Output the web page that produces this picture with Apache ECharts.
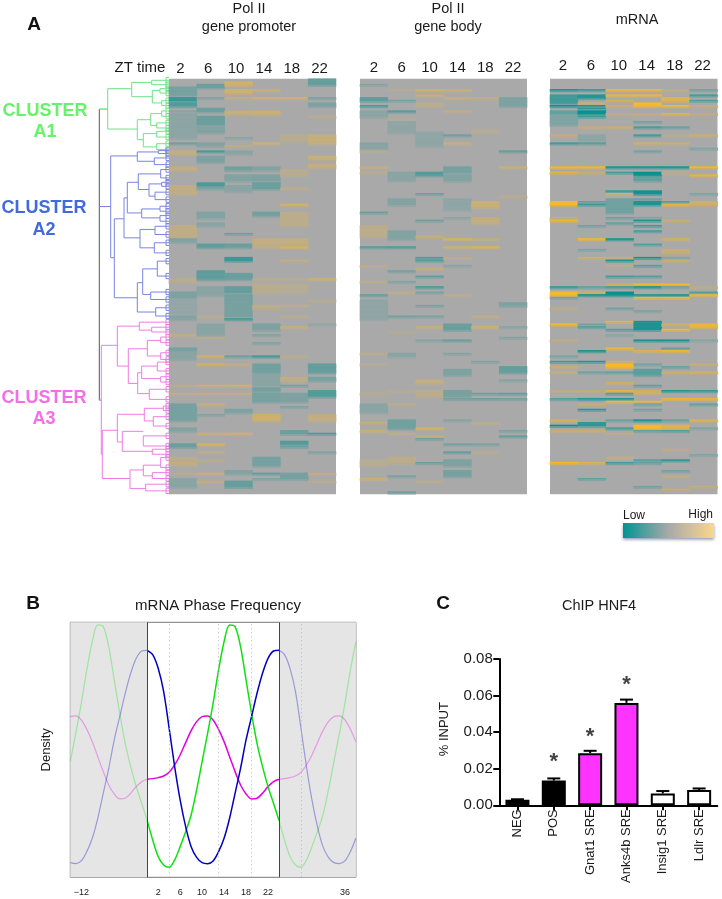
<!DOCTYPE html>
<html><head><meta charset="utf-8">
<style>html,body{margin:0;padding:0;background:#fff}#c{width:722px;height:899px}</style>
<script src="https://cdn.jsdelivr.net/npm/echarts@6/dist/echarts.min.js"></script>
</head><body><div id="c"></div>
<script>
// ---------- Panel A: heat map values, sparse bands [row,value] or [rowFrom,rowTo,value]; all other cells are 0
const ztTimes = ['2','6','10','14','18','22'];
const rowCount = 156;
const promoter2 = [[3,6,-.4],[7,8,-.9],[9,10,-.7],[12,-.3],[13,22,-.22],[24,-.5],[27,28,.4],[33,34,.4],[40,43,.35],[55,59,.35],[60,61,-.3],[75,76,.25],[80,82,-.35],[83,88,-.15],[89,90,-.3],[96,.4],[101,102,-.4],[103,105,-.25],[115,.3],[118,.4],[122,128,-.4],[131,132,-.3],[137,138,-.5],[142,143,.3],[144,.5],[145,.3],[148,.3],[150,153,-.25]];
const promoter6 = [[2,3,-.5],[7,-.35],[11,12,-.5],[14,17,-.5],[18,20,-.3],[24,25,-.3],[27,-.85],[29,31,-.35],[39,40,-.75],[41,-.35],[50,52,-.3],[54,55,-.25],[62,63,-.6],[72,75,-.6],[78,81,-.25],[89,.25],[92,96,-.25],[97,.3],[104,.65],[107,.75],[115,.6],[118,.5],[122,.5],[126,-.3],[133,.5],[137,.8],[140,.35],[143,.3],[148,.55],[151,.5]];
const promoter10 = [[1,2,.65],[4,5,.6],[7,.4],[12,13,.45],[22,-.25],[25,.3],[27,28,-.25],[33,34,-.45],[36,38,-.3],[40,42,-.25],[58,-.5],[62,63,-.5],[67,68,-.9],[73,75,-.5],[78,80,-.55],[81,89,-.4],[90,-.85],[104,-.5],[107,.4],[115,.75],[118,.45],[124,125,-.35],[133,.7],[147,148,-.3],[151,153,-.55]];
const promoter14 = [[4,.55],[7,.7],[12,13,.55],[24,.6],[33,34,-.3],[36,38,-.35],[39,41,-.5],[50,51,-.45],[60,62,.4],[63,.4],[75,.3],[77,80,.25],[85,86,.3],[92,94,-.35],[96,-.35],[99,-.35],[104,-.9],[107,110,-.45],[111,115,-.25],[116,117,-.45],[118,121,-.4],[126,128,.6],[142,145,-.4],[148,-.6],[150,-.35]];
const promoter18 = [[7,.7],[21,23,.25],[34,36,.25],[41,.3],[47,.75],[50,55,.3],[60,62,.4],[63,.8],[68,.4],[75,.3],[77,80,.2],[85,.4],[89,.3],[93,.5],[104,.3],[112,113,.35],[115,-.4],[118,121,-.35],[123,-.35],[132,133,-.5],[136,137,-.7],[138,-.5],[148,150,-.4]];
const promoter22 = [[0,2,-.55],[7,-.4],[9,10,-.35],[14,.3],[21,24,.45],[29,30,.45],[32,33,.4],[75,.6],[83,.25],[92,-.2],[107,110,-.55],[112,113,-.4],[117,119,-.7],[126,128,.4],[133,-.75],[140,-.35],[148,.4],[151,.25]];
const body2 = [[2,-.3],[7,8,-.6],[10,-.8],[12,14,-.25],[24,26,-.25],[27,.25],[33,.5],[35,.3],[50,-.5],[55,59,.3],[63,-.7],[70,.35],[76,.3],[81,-.55],[83,90,-.2],[103,.3],[107,.2],[118,.25],[122,125,-.25],[129,.45],[132,.55],[143,145,.2],[150,.55]];
const body6 = [[4,.2],[8,-.4],[12,-.75],[15,.25],[16,20,-.2],[35,38,-.25],[45,47,-.3],[57,60,-.3],[63,-.75],[72,-.45],[76,-.3],[80,.35],[89,-.45],[95,.2],[103,104,-.25],[117,.25],[122,.3],[128,131,-.45],[133,.35],[142,144,.3],[149,-.4],[155,-.5]];
const body10 = [[4,.75],[6,.55],[9,10,.3],[20,25,-.2],[35,36,-.7],[43,-.5],[53,-.45],[59,.5],[67,-.75],[68,-.7],[71,.5],[74,-.6],[78,-.8],[80,-.4],[85,-.4],[89,-.4],[93,.5],[98,-.3],[113,114,.4],[117,119,.3],[131,.75],[134,.45],[135,-.45],[144,-.5],[151,.3]];
const body14 = [[4,.55],[7,.5],[12,.4],[21,-.5],[24,.5],[33,35,-.4],[36,38,-.3],[45,49,-.2],[52,-.25],[60,.85],[63,.65],[67,.35],[70,-.25],[81,.3],[92,94,-.5],[98,-.55],[103,-.3],[109,111,-.35],[117,119,-.4],[120,-.45],[128,-.3],[137,-.45],[140,-.6],[143,145,-.35],[147,149,-.4]];
const body18 = [[7,.4],[19,20,.2],[46,48,.5],[52,54,.4],[60,.5],[63,.9],[89,.4],[93,.65],[106,-.3],[118,-.5],[120,-.5],[129,.3],[137,-.4],[140,.3]];
const body22 = [[7,10,-.35],[27,-.6],[33,.55],[44,.3],[84,85,-.35],[93,-.3],[97,-.3],[108,110,-.55],[113,-.3],[118,-.6],[120,-.45],[132,-.35],[134,-.6]];
const mrna2 = [[4,-.95],[6,9,-.7],[10,-1],[12,13,-.5],[14,17,-.3],[21,.35],[24,-.75],[33,1],[35,.7],[46,47,1],[52,.4],[53,.9],[78,-.8],[80,81,1],[82,-.4],[86,.25],[92,1],[98,.3],[104,-.35],[106,-.7],[108,.4],[110,.35],[117,.3],[120,-.6],[128,.6],[130,-1],[132,.4],[144,1]];
const mrna6 = [[4,-.8],[6,7,-.85],[9,.5],[10,-.95],[11,-.8],[12,13,-1],[14,-.7],[18,.4],[21,23,-.2],[24,-.6],[33,1],[35,.4],[46,-.5],[47,-.75],[55,-.4],[60,1],[64,-.35],[67,.6],[78,-.5],[80,.5],[81,-1],[92,-.4],[93,-.6],[102,-1],[106,-.85],[110,-.45],[117,.3],[120,-.9],[122,.4],[124,-.8],[129,130,-.8],[132,.4],[144,.6],[150,-.5]];
const mrna10 = [[4,1],[6,.95],[8,.5],[10,.5],[13,.3],[18,.5],[33,-1],[35,-.7],[42,-.8],[43,.5],[45,50,-.4],[52,-.45],[54,-.5],[60,-1],[67,.5],[68,-.9],[70,.3],[74,-.7],[77,.5],[78,-.7],[80,81,-1],[86,-.4],[91,.8],[94,-.6],[96,-.25],[101,.9],[106,.6],[107,108,1],[110,-.5],[114,.5],[117,.85],[118,-.6],[120,-.9],[121,.9],[128,-.5],[131,-.7],[133,.3],[142,.4],[144,-.7]];
const mrna14 = [[4,.95],[6,.95],[9,10,1],[13,.4],[16,-.4],[18,-.7],[21,-.75],[24,.5],[27,-.4],[33,-1],[35,36,-1],[37,38,-.5],[42,43,-.95],[45,-.5],[46,47,-.9],[52,-.3],[53,-.9],[55,-.7],[57,-.7],[62,-.6],[67,-.95],[70,-.6],[74,-.6],[77,1],[78,-.95],[81,-.95],[82,1],[87,-.35],[91,94,-.9],[98,-1],[102,.7],[107,-.4],[109,111,-.55],[115,-.5],[117,118,.5],[121,.9],[122,-.4],[124,-.4],[128,-1],[130,131,1],[132,-.5],[143,-.6],[144,-.5],[153,-.4]];
const mrna18 = [[4,.35],[7,8,.7],[10,1],[13,.8],[18,-.5],[21,.25],[24,.4],[33,-1],[35,.25],[46,-.6],[47,.8],[53,.4],[60,.6],[64,65,.4],[67,-.3],[68,.4],[77,1],[78,-.4],[81,-.95],[82,1],[92,.5],[94,1],[98,-1],[101,-.5],[102,1],[108,-.5],[110,.5],[117,-.9],[120,.9],[128,-.5],[130,131,.7],[132,-.6],[139,.3],[143,-.85],[147,-.4],[149,.3],[154,.4]];
const mrna22 = [[4,-.4],[6,-.7],[8,-.6],[10,.4],[13,.3],[21,.5],[26,-.3],[33,1],[36,.85],[43,-.3],[46,47,.5],[78,.3],[80,-.6],[81,.9],[92,93,.85],[98,-.25],[107,.4],[110,.6],[117,-.8],[120,.9],[122,-.5],[128,.7],[131,-.3],[141,-.3],[153,.3]];

// ---------- Panel A: dendrogram merges [height, rowA, rowB, childHeightA, childHeightB]; child height 3 = group of leaves
const mergesRoot = [[69.7,11.4,120.7,69.7,69.7]];
const mergesA1 = [[69.7,11.4,11.4,61.3,61.3],[61.3,3.75,18.9,37.3,31.7],[37.3,1.4,6.75,17.3,16.7],[17.3,.6,2.25,3,3],[16.7,4.4,9.1,9,7.3],[9,3.75,5.4,3,3],[7.3,8.25,10.1,3,3],[31.7,15.4,22.9,18.3,25.7],[18.3,13.1,17.6,7.3,12.3],[7.3,12.1,14.1,3,3],[12.3,16.6,18.5,3,3],[25.7,20.6,25.6,12.3,12.3],[12.3,19.75,21.9,3,3],[12.3,24.4,26.6,3,3]];
const mergesA2 = [[69.7,48,48,58.3,58.3],[58.3,29,67.2,31.7,54.7],[31.7,27.5,31,10.7,14.7],[10.7,27,28.1,3,3],[14.7,29.75,32.25,3,3],[54.7,52.6,82.25,45,31.7],[45,44.75,59.75,41.7,29],[41.7,38.9,50.4,30.7,27.3],[30.7,35.75,41.6,8.3,20],[8.3,34.1,37.25,3,3],[20,39.5,44.1,7.3,14],[7.3,38.9,40.4,3,3],[14,42.6,45.4,3,3],[27.3,48.9,52.25,9,9],[9,47.9,49.75,3,3],[9,51.4,53.5,3,3],[29,56.6,63.5,14,14.7],[14,55.4,58.5,3,3],[14.7,61.6,65.4,3,3],[31.7,76.6,87.6,26.3,13.3],[26.3,71.4,81,11.7,18.3],[11.7,68.5,74.1,3,3],[18.3,80.1,82.9,3,3],[13.3,86,89.1,3,3]];
const mergesA3 = [[69.7,120.7,120.7,67.7,67.7],[67.7,100.1,141,51.7,66.7],[51.7,92.9,107.9,29.7,40.7],[29.7,91.4,94.4,3,17.3],[17.3,93.3,95.1,3,3],[40.7,101.4,114.4,21.7,31.3],[21.7,98.25,104.1,8.3,8.3],[8.3,97,99.1,3,3],[8.3,102.9,105.4,3,3],[31.3,110.4,118.25,27.3,19.7],[27.3,107.9,112.6,11.7,8.3],[11.7,106.4,109.75,3,3],[8.3,111.9,113.9,3,3],[19.7,116.6,120.4,3,3],[66.7,132,150.1,51.7,39],[51.7,126,136.4,24.7,46.7],[24.7,123.75,128.5,5.7,15.7],[5.7,122.9,124.6,3,3],[15.7,126.9,130.4,3,3],[46.7,132.4,139.9,25.7,16.7],[25.7,134.1,137.9,3,3],[16.7,139.1,141,3,3],[39,146.9,153.9,25.7,23.3],[25.7,145.1,149.1,8.3,16.7],[8.3,142.25,146,3,3],[16.7,147.9,150.1,3,3],[23.3,152.25,154.75,3,3]];

// ---------- Panel B: density over one 24 h period, hourly
const phaseTicks = [-12,2,6,10,14,18,22,36];
const phaseDotted = [4,13,19,28];
const densityBlue = [681,668,627,557,447,332,232,152,92,60,44,41,49,77,117,177,252,327,412,482,552,612,657,679,681];
const densityGreen = [170,112,62,37,30,52,92,137,187,262,347,432,522,622,707,757,752,692,592,492,402,332,272,222,170];
const densityMagenta = [294,296,299,304,315,337,367,404,440,467,482,484,472,444,407,362,317,277,250,235,237,252,272,287,294];

// ---------- Panel C: ChIP HNF4
const chipNames = ['NEG','POS','Gnat1 SRE','Anks4b SRE','Insig1 SRE','Ldlr SRE'];
const chipValues = [0.003,0.0135,0.0285,0.056,0.0065,0.0083];
const chipErrorTop = [0.0033,0.0147,0.0298,0.0578,0.0078,0.0092];
const chipStarAt = [null,0.0248,0.0384,0.0667,null,null];
const chipFills = ['#000','#000','#ff33ff','#ff33ff','#fff','#fff'];

const FONT = '"Liberation Sans", Arial, sans-serif';
const TXT = '#1a1a1a';

// each row is drawn as two half rows, the lower edge of a band softened like the original's resampling
function cells(cols){
  const out = [];
  cols.forEach((bands,c)=>{
    const v = new Array(rowCount*2).fill(0);
    bands.forEach(b=>{
      const from=b[0], to=b.length===3?b[1]:b[0], val=b[b.length-1];
      for(let r=from*2;r<=to*2+1;r++) v[r]=(r===to*2+1)?val*.55:val;
    });
    v.forEach((x,r)=>{ if(x!==0) out.push([c,r,x]); });
  });
  return out;
}
const rowLabels = Array.from({length:rowCount*2},(_,i)=>String(i));

function heatGrid(left,width){return {left,width,top:78.7,height:415.5,show:true,borderWidth:0,backgroundColor:'#a9a9a9'};}
function heatX(idx,margin,padRight){return {type:'category',gridIndex:idx,position:'top',data:ztTimes,
  axisLine:{show:false},axisTick:{show:false},splitLine:{show:false},
  axisLabel:{fontSize:15,color:TXT,margin,interval:0,fontFamily:FONT,padding:[0,padRight,0,0]}};}
function heatY(idx){return {type:'category',gridIndex:idx,inverse:true,data:rowLabels,show:false};}
function heatS(idx,cols){return {type:'heatmap',xAxisIndex:idx,yAxisIndex:idx,data:cells(cols),
  itemStyle:{borderWidth:0},emphasis:{disabled:true},progressive:0,animation:false};}

function renderMerge(params,api){
  const h=api.value(0),a=api.value(1),b=api.value(2),ha=api.value(3),hb=api.value(4);
  const P=(x,y)=>api.coord([x,y]);
  const stroke=api.visual('color');
  const st={stroke,lineWidth:1,fill:null};
  const kids=[{type:'polyline',shape:{points:[P(ha,a),P(h,a),P(h,b),P(hb,b)]},style:st}];
  [[ha,a],[hb,b]].forEach(([ch,r])=>{
    if(ch===3){
      kids.push({type:'polyline',shape:{points:[P(0,r-1),P(3,r-1),P(3,r+1),P(0,r+1)]},style:st});
      kids.push({type:'polyline',shape:{points:[P(3,r),P(0,r)]},style:st});
    }
  });
  return {type:'group',children:kids};
}
function mergeS(data,color){return {type:'custom',xAxisIndex:0,yAxisIndex:0,data,renderItem:renderMerge,
  itemStyle:{color},encode:{x:[0,3,4],y:[1,2]},silent:true,animation:false};}

// Panel B helpers: repeat the read period into the shaded zones
const hoursLeft=[],hoursMid=[],hoursRight=[];
for(let h=-14;h<=0;h++)hoursLeft.push(h);
for(let h=0;h<=24;h++)hoursMid.push(h);
for(let h=24;h<=38;h++)hoursRight.push(h);
function curve(vals,color){
  const at=h=>vals[((h%24)+24)%24];
  const base={type:'line',xAxisIndex:1,yAxisIndex:1,smooth:.3,showSymbol:false,symbol:'none',silent:true,animation:false};
  return [
    {...base,data:hoursLeft.map(h=>[h,at(h)]),lineStyle:{color,width:1.2,opacity:.33}},
    {...base,data:hoursRight.map(h=>[h,at(h)]),lineStyle:{color,width:1.2,opacity:.33}},
    {...base,data:hoursMid.map(h=>[h,vals[h]]),lineStyle:{color,width:1.5},z:4}
  ];
}
const phaseDecor={type:'line',xAxisIndex:1,yAxisIndex:1,data:[],silent:true,animation:false,
  markArea:{silent:true,itemStyle:{color:'#e5e5e5'},data:[[{xAxis:-14},{xAxis:0}],[{xAxis:24},{xAxis:38}]],z:1},
  markLine:{silent:true,symbol:'none',label:{show:false},animation:false,data:[
    ...phaseDotted.map(h=>({xAxis:h,lineStyle:{color:'#b8b8b8',type:[1,3],width:1}})),
    {xAxis:0,lineStyle:{color:'#444',type:'solid',width:1}},
    {xAxis:24,lineStyle:{color:'#444',type:'solid',width:1}}
  ]}};

function renderErr(params,api){
  const i=api.value(0),lo=api.coord([i,api.value(1)]),hi=api.coord([i,api.value(2)]);
  const st={stroke:'#000',lineWidth:2,fill:null};
  return {type:'group',children:[
    {type:'line',shape:{x1:lo[0],y1:lo[1],x2:hi[0],y2:hi[1]},style:st},
    {type:'line',shape:{x1:hi[0]-6.5,y1:hi[1],x2:hi[0]+6.5,y2:hi[1]},style:st}]};
}

function T(x,y,text,size,opt){return {type:'text',x,y,silent:true,style:Object.assign({text,fontSize:size,fontFamily:FONT,fill:TXT,align:'center',verticalAlign:'middle'},opt||{})};}
const clusterStyle=c=>({fontWeight:'bold',fill:c});

const option={
  animation:false,backgroundColor:'#fff',textStyle:{fontFamily:FONT},
  visualMap:[
    {show:false,seriesIndex:[5,6],min:-1.35,max:1.35,dimension:2,inRange:{color:['#008f8c','#a9a9a9','#fcba22']}},
    {show:false,seriesIndex:[7],min:-1.05,max:1.05,dimension:2,inRange:{color:['#008f8c','#5ea09f','#a9a9a9','#d2b061','#fcba22']}}
  ],
  grid:[
    {left:99,width:70,top:78.7,height:415.5},
    {left:70.3,width:285.6,top:622.3,height:255,show:true,borderColor:'#777',borderWidth:1,backgroundColor:'#fff'},
    {left:499.3,width:218,top:659,height:146.3},
    heatGrid(169,167),heatGrid(360,167),heatGrid(550,167.5)
  ],
  xAxis:[
    {type:'value',gridIndex:0,inverse:true,min:0,max:70,show:false},
    {type:'value',gridIndex:1,min:-14,max:38,splitLine:{show:false},axisLine:{show:false},
      axisTick:{show:false},
      axisLabel:{customValues:phaseTicks,fontSize:9,color:TXT,margin:11,formatter:v=>v<0?'\u2212'+(-v):String(v)}},
    {type:'category',gridIndex:2,data:chipNames,
      axisLine:{lineStyle:{color:'#000',width:2}},
      axisTick:{show:true,alignWithLabel:true,length:5,lineStyle:{color:'#000',width:2}},
      axisLabel:{rotate:90,interval:0,fontSize:13,color:TXT,margin:4}},
    heatX(3,2,5),heatX(4,3,0),heatX(5,5,2)
  ],
  yAxis:[
    {type:'value',gridIndex:0,inverse:true,min:0,max:156,show:false},
    {type:'value',gridIndex:1,min:0,max:765,splitLine:{show:false},axisLine:{show:false},axisTick:{show:false},axisLabel:{show:false},
      name:'Density',nameLocation:'middle',nameGap:17,nameRotate:90,nameTextStyle:{fontSize:13,color:TXT}},
    {type:'value',gridIndex:2,min:0,max:.08,interval:.02,splitLine:{show:false},
      axisLine:{show:true,lineStyle:{color:'#000',width:2}},
      axisTick:{show:true,length:6,lineStyle:{color:'#000',width:2}},
      axisLabel:{fontSize:15,color:TXT,margin:6.5,formatter:v=>v.toFixed(2)},
      name:'% INPUT',nameLocation:'middle',nameGap:48,nameRotate:90,nameTextStyle:{fontSize:13,color:TXT,padding:[0,0,0,6]}},
    heatY(3),heatY(4),heatY(5)
  ],
  series:[
    mergeS(mergesRoot,'#555'),mergeS(mergesA1,'#72e287'),mergeS(mergesA2,'#7a84de'),mergeS(mergesA3,'#ee7ce4'),
    phaseDecor,
    heatS(3,[promoter2,promoter6,promoter10,promoter14,promoter18,promoter22]),
    heatS(4,[body2,body6,body10,body14,body18,body22]),
    heatS(5,[mrna2,mrna6,mrna10,mrna14,mrna18,mrna22]),
    ...curve(densityMagenta,'#e000e0'),
    ...curve(densityGreen,'#10e010'),
    ...curve(densityBlue,'#0000c0'),
    {type:'bar',xAxisIndex:2,yAxisIndex:2,barWidth:24,animation:false,silent:true,
      data:chipValues.map((v,i)=>({value:v,itemStyle:{color:chipFills[i],borderColor:'#000',borderWidth:2}}))},
    {type:'custom',xAxisIndex:2,yAxisIndex:2,data:chipValues.map((v,i)=>[i,v,chipErrorTop[i]]),renderItem:renderErr,silent:true,animation:false,z:3},
    {type:'scatter',xAxisIndex:2,yAxisIndex:2,symbolSize:1,itemStyle:{color:'transparent'},silent:true,animation:false,
      data:chipStarAt.map((v,i)=>v==null?null:[i,v]).filter(Boolean),
      label:{show:true,position:'inside',formatter:'*',fontSize:22,fontWeight:'bold',color:'#111',offset:[0,2]}}
  ],
  graphic:[
    T(34,25,'A',19,{fontWeight:'bold',fill:'#111'}),
    T(33,604,'B',19,{fontWeight:'bold',fill:'#111'}),
    T(443,604,'C',19,{fontWeight:'bold',fill:'#111'}),
    T(249,9,'Pol II',14.5),T(249,27,'gene promoter',14.5),
    T(448,9,'Pol II',14.5),T(448,27,'gene body',14.5),
    T(637,20,'mRNA',14.5),
    T(140,68,'ZT time',15),
    T(45,111,'CLUSTER',18,clusterStyle('#66f26a')),T(45,132,'A1',18,clusterStyle('#66f26a')),
    T(44,208,'CLUSTER',18,clusterStyle('#4169e1')),T(44,230,'A2',18,clusterStyle('#4169e1')),
    T(44,398,'CLUSTER',18,clusterStyle('#f56ee8')),T(44,419,'A3',18,clusterStyle('#f56ee8')),
    T(218,606,'mRNA Phase Frequency',15),
    T(599,606,'ChIP HNF4',14.5),
    T(623,516,'Low',12,{align:'left'}),
    T(713,515,'High',12,{align:'right'}),
    {type:'rect',silent:true,shape:{x:623,y:523,width:91,height:15},
      style:{fill:new echarts.graphic.LinearGradient(0,0,1,0,[{offset:0,color:'#009494'},{offset:.5,color:'#a9a9a9'},{offset:1,color:'#fad78b'}]),
        shadowColor:'rgba(40,60,110,.55)',shadowBlur:3,shadowOffsetY:1.5}}
  ]
};
const chart=echarts.init(document.getElementById('c'),null,{renderer:'canvas',width:722,height:899});
chart.setOption(option);
</script></body></html>
